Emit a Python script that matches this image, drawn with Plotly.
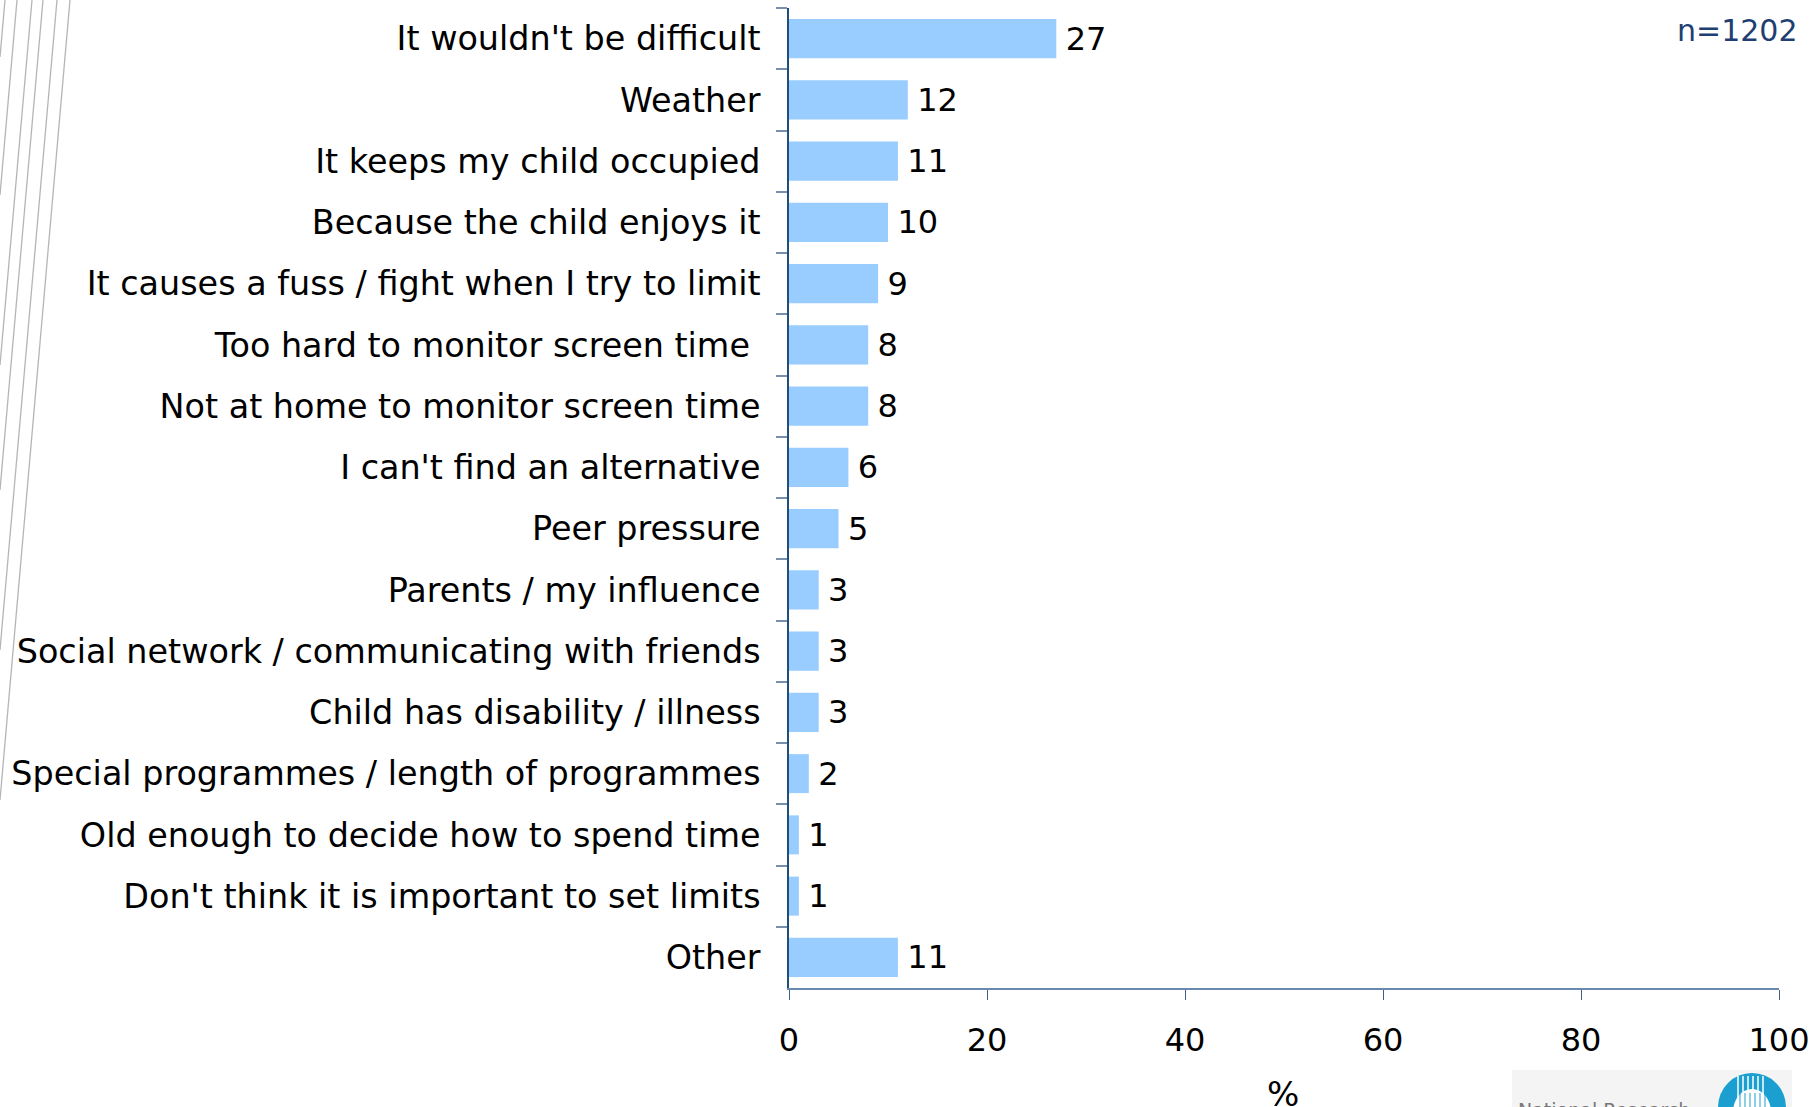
import plotly.graph_objects as go

# Reasons given for not limiting children's screen time (% of respondents)
categories = [
    "It wouldn't be difficult",
    "Weather",
    "It keeps my child occupied",
    "Because the child enjoys it",
    "It causes a fuss / fight when I try to limit",
    "Too hard to monitor screen time\u00a0",
    "Not at home to monitor screen time",
    "I can't find an alternative",
    "Peer pressure",
    "Parents / my influence",
    "Social network / communicating with friends",
    "Child has disability / illness",
    "Special programmes / length of programmes",
    "Old enough to decide how to spend time",
    "Don't think it is important to set limits",
    "Other",
]
percentages = [27, 12, 11, 10, 9, 8, 8, 6, 5, 3, 3, 3, 2, 1, 1, 11]
x_ticks = [0, 20, 40, 60, 80, 100]
sample_note = "n=1202"

W, H = 1818, 1107
ML, MR, MT, MB = 789, 39, 8, 119
PW, PH = W - ML - MR, H - MT - MB


def px_x(p):
    """Pixel column -> paper x."""
    return (p - ML) / PW


def px_y(p):
    """Pixel row (from top) -> paper y."""
    return (H - MB - p) / PH


FONT = "DejaVu Sans"

fig = go.Figure(
    go.Bar(
        x=percentages,
        y=categories,
        orientation="h",
        marker=dict(color="#99CCFF", line=dict(width=0)),
        text=["\u2009" + str(v) for v in percentages],
        textposition="outside",
        constraintext="none",
        cliponaxis=False,
        textfont=dict(family=FONT, size=32, color="#000000"),
        hoverinfo="skip",
    )
)

fig.update_layout(
    width=W,
    height=H,
    margin=dict(l=ML, r=MR, t=MT, b=MB, pad=0),
    paper_bgcolor="white",
    plot_bgcolor="white",
    showlegend=False,
    bargap=0.363,
    font=dict(family=FONT, color="#000000"),
)

fig.update_xaxes(
    range=[0, 100],
    tickmode="array",
    tickvals=x_ticks,
    ticktext=[str(t) for t in x_ticks],
    ticks="outside",
    ticklen=10,
    tickwidth=1.3,
    tickcolor="#3F5F8A",
    showline=True,
    linecolor="#6A89AE",
    linewidth=1.5,
    showgrid=False,
    zeroline=False,
    tickfont=dict(family=FONT, size=32, color="#000000"),
    ticklabelstandoff=13,
)

fig.update_yaxes(
    type="category",
    categoryorder="array",
    categoryarray=categories,
    autorange="reversed",
    tickson="boundaries",
    ticks="outside",
    ticklen=11,
    tickwidth=1.5,
    tickcolor="#7890AE",
    showline=True,
    linecolor="#1F4E79",
    linewidth=1.5,
    showgrid=False,
    zeroline=False,
    tickfont=dict(family=FONT, size=33.4, color="#000000"),
    ticklabelstandoff=20,
)

annotations = [
    dict(
        text=sample_note,
        xref="paper", yref="paper",
        x=px_x(1800), y=px_y(31),
        xanchor="right", yanchor="middle",
        showarrow=False,
        font=dict(family=FONT, size=30, color="#1F3F73"),
    ),
    dict(
        text="%",
        xref="paper", yref="paper",
        x=px_x(1283), y=px_y(1072),
        xanchor="center", yanchor="top",
        showarrow=False,
        font=dict(family=FONT, size=34, color="#000000"),
    ),
    dict(
        text="National Research",
        xref="paper", yref="paper",
        x=px_x(1516), y=px_y(1097),
        xanchor="left", yanchor="top",
        showarrow=False,
        font=dict(family=FONT, size=19, color="#777777"),
    ),
]

shapes = []

# Decorative fan of thin grey lines along the left edge
fan = [(70, 800), (57, 650), (43, 490), (32, 365), (17, 195), (5, 57)]
for top_x, bottom_y in fan:
    shapes.append(dict(
        type="line", xref="paper", yref="paper",
        x0=px_x(top_x), y0=px_y(0), x1=px_x(0), y1=px_y(bottom_y),
        line=dict(color="#B5B5B5", width=1.3),
    ))

# Logo panel in the bottom-right corner
shapes.append(dict(
    type="rect", xref="paper", yref="paper",
    x0=px_x(1512), x1=px_x(1792), y0=px_y(1070), y1=px_y(1110),
    fillcolor="#F4F4F4", line=dict(width=0),
))
shapes.append(dict(
    type="circle", xref="paper", yref="paper",
    x0=px_x(1718), x1=px_x(1786), y0=px_y(1073), y1=px_y(1141),
    fillcolor="#1A9FD0", line=dict(width=0),
))
for sx in range(1738, 1768, 5):
    shapes.append(dict(
        type="line", xref="paper", yref="paper",
        x0=px_x(sx), x1=px_x(sx), y0=px_y(1076), y1=px_y(1110),
        line=dict(color="white", width=1.5),
    ))
shapes.append(dict(
    type="circle", xref="paper", yref="paper",
    x0=px_x(1733), x1=px_x(1771), y0=px_y(1089), y1=px_y(1135),
    fillcolor="white", line=dict(width=0),
))
for sx in range(1740, 1766, 5):
    shapes.append(dict(
        type="line", xref="paper", yref="paper",
        x0=px_x(sx), x1=px_x(sx), y0=px_y(1093), y1=px_y(1110),
        line=dict(color="#1A9FD0", width=1),
    ))

fig.update_layout(annotations=annotations, shapes=shapes)

fig.write_html("out.html", config={"displayModeBar": False})
